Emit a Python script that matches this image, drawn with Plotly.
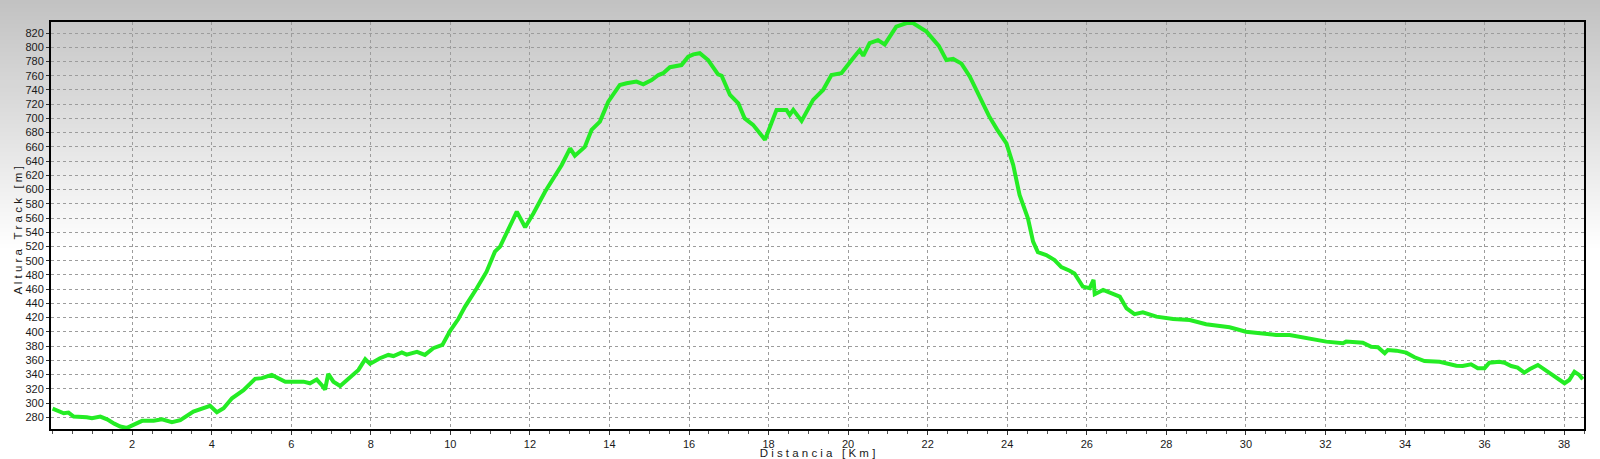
import plotly.graph_objects as go

# Distance along track [km]
distance_km = [
    0.0, 0.15, 0.28, 0.40, 0.53, 0.86, 0.99, 1.2, 1.37, 1.55, 1.70, 1.87, 2.04, 2.25, 2.54, 2.75,
    3.0, 3.21, 3.54, 3.88, 3.96, 4.13, 4.30, 4.51, 4.80, 5.09, 5.26, 5.51, 5.64, 5.85, 6.06, 6.31,
    6.47, 6.64, 6.77, 6.85, 6.93, 7.06, 7.23, 7.44, 7.69, 7.86, 7.98, 8.23, 8.44, 8.57, 8.78, 8.90,
    9.16, 9.36, 9.57, 9.80, 9.99, 10.2, 10.37, 10.66, 10.91, 11.12, 11.25, 11.67, 11.88, 12.09,
    12.38, 12.80, 13.01, 13.13, 13.38, 13.55, 13.76, 13.97, 14.26, 14.43, 14.68, 14.85, 15.06,
    15.23, 15.35, 15.52, 15.81, 15.98, 16.11, 16.27, 16.48, 16.73, 16.82, 17.03, 17.24, 17.40,
    17.61, 17.91, 18.2, 18.45, 18.53, 18.62, 18.83, 19.12, 19.37, 19.58, 19.83, 20.09, 20.29,
    20.38, 20.54, 20.75, 20.92, 21.21, 21.47, 21.63, 21.97, 22.28, 22.47, 22.64, 22.85, 23.06,
    23.31, 23.54, 23.75, 23.98, 24.15, 24.31, 24.52, 24.65, 24.77, 24.98, 25.19, 25.36, 25.57,
    25.69, 25.90, 26.07, 26.17, 26.20, 26.41, 26.83, 27.0, 27.2, 27.41, 27.75, 28.17, 28.59,
    29.0, 29.59, 30.0, 30.34, 30.76, 31.10, 31.52, 31.93, 32.02, 32.44, 32.52, 32.94, 33.15,
    33.32, 33.49, 33.57, 33.78, 34.03, 34.24, 34.49, 34.87, 35.29, 35.45, 35.66, 35.83, 36.0,
    36.12, 36.37, 36.50, 36.67, 36.83, 37.0, 37.13, 37.34, 37.59, 37.80, 38.01, 38.13, 38.26,
    38.38, 38.47,
]

# Track altitude [m]
altitude_m = [
    292, 289, 285.6, 286.5, 281, 280, 278.6, 281, 277, 271, 267, 265, 269, 275, 275, 277,
    273, 276, 288, 294, 296, 287, 292.6, 306.7, 318, 334, 335, 339.5, 336, 330, 330, 330,
    327.8, 333, 325, 319, 341, 330, 324, 335, 346.5, 361.5, 355, 363, 367.6, 366, 371, 368,
    372, 367.6, 377, 381.6, 401, 418, 435.5, 461, 484.6, 512.7, 519.8, 569, 547, 566.7,
    597, 634.6, 658, 647.7, 660, 683.8, 695.5, 723.6, 747, 749.4, 751.7, 748, 754,
    761, 763.5, 772, 775, 786.8, 790, 791.6, 782, 762, 760, 733, 721, 700,
    691, 670, 712, 712, 705, 712, 696.5, 726, 740, 761, 763.5, 782, 796,
    788, 805.7, 810, 804, 829, 834, 834, 822, 802, 782, 783.6, 777, 758.7,
    729.5, 703.5, 684, 665, 634.6, 592.4, 559.7, 526.8, 512, 508, 501, 491, 486,
    482, 463.6, 461.3, 473, 453, 459, 449.5, 433, 425, 427.6, 421.4, 418, 416.7,
    410.7, 406.5, 400.3, 398, 395.7, 395.7, 391, 386.3, 386.3, 384, 386.3, 384.8, 379,
    378.4, 370, 374.6, 373.6, 370.8, 364.3, 359, 358, 352.5, 352, 354.5, 349, 349,
    356.7, 358, 356.7, 352, 349.7, 342.7, 347.5, 353.5, 344, 336, 327.8, 332.4, 344,
    339.5, 333.4,
]

x_tick_values = list(range(2, 39, 2))
x_tick_labels = [str(v) for v in x_tick_values]

W, H = 1600, 459
L, R, T, B = 51, 16, 22, 30
plot_w = W - L - R
plot_h = H - T - B

fig = go.Figure()
fig.add_trace(go.Scatter(
    x=distance_km, y=altitude_m, mode="lines",
    line=dict(color="rgb(36,236,36)", width=4),
    hoverinfo="x+y", showlegend=False,
))

# Background vertical gradient (grey at top to white lower down)
shapes = []
grad_end = 250.0
step = 4.0
n_bands = int(grad_end / step)
for i in range(n_bands):
    py0 = i * step
    py1 = py0 + step
    frac = min(py0 / grad_end, 1.0)
    c = int(round(194 + (255 - 194) * frac))
    shapes.append(dict(
        type="rect", xref="paper", yref="paper", layer="below",
        x0=-L / plot_w - 0.01, x1=1 + R / plot_w + 0.01,
        y0=(H - B - py1) / plot_h, y1=(H - B - py0) / plot_h,
        line=dict(width=0), fillcolor=f"rgb({c},{c},{c})",
    ))

gap = "&nbsp;&nbsp;&nbsp;"
x_title = " ".join("Distancia") + gap + " ".join("[Km]")
y_title = " ".join("Altura") + gap + " ".join("Track") + gap + " ".join("[m]") + "&nbsp;&nbsp;&nbsp;"

grid_col = "#9c9c9c"

fig.update_layout(
    width=W, height=H,
    margin=dict(l=L, r=R, t=T, b=B, pad=0),
    paper_bgcolor="white",
    plot_bgcolor="rgba(0,0,0,0)",
    shapes=shapes,
    font=dict(family="Liberation Sans, Arial, sans-serif", size=11, color="#1a1a1a"),
    xaxis=dict(
        range=[-0.04, 38.5], automargin=False,
        tickvals=x_tick_values, ticktext=x_tick_labels,
        showgrid=True, gridcolor=grid_col, gridwidth=1, griddash="3px,3px",
        showline=True, linecolor="black", linewidth=2, mirror=True,
        ticks="outside", ticklen=4, tickcolor="#333", tickwidth=1,
        minor=dict(dtick=0.5, tick0=0, ticks="outside", ticklen=3, tickcolor="#555", showgrid=False),
        zeroline=False,
        tickfont=dict(size=11),
        title=dict(text=x_title, font=dict(size=11.5), standoff=3),
    ),
    yaxis=dict(
        range=[263.5, 835.5], automargin=False,
        dtick=20, tick0=0,
        showgrid=True, gridcolor=grid_col, gridwidth=1, griddash="3px,3px",
        showline=True, linecolor="black", linewidth=2, mirror=True,
        ticks="outside", ticklen=3, tickcolor="#333", tickwidth=1,
        zeroline=False,
        tickfont=dict(size=11),
        title=dict(text=y_title, font=dict(size=11.5), standoff=0),
    ),
)

fig.write_html(
    "out.html",
    config={"displayModeBar": False},
    post_script="document.body.style.margin='0';document.body.style.padding='0';document.body.style.overflow='hidden';",
)
